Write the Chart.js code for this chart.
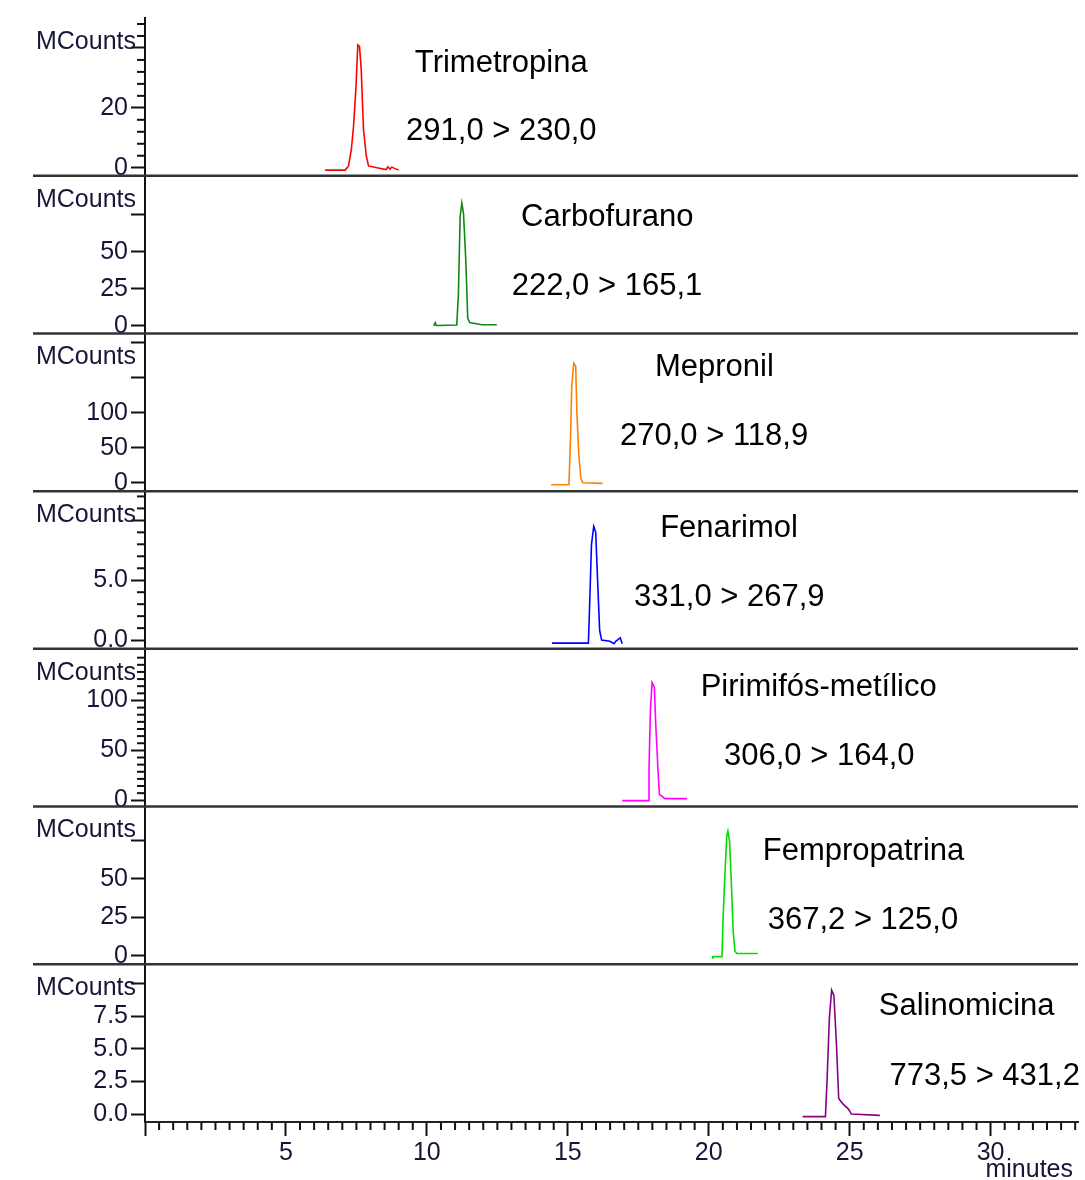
<!DOCTYPE html>
<html>
<head>
<meta charset="utf-8">
<script src="https://cdn.jsdelivr.net/npm/chart.js@4.4.1/dist/chart.umd.min.js"></script>
<style>
  html, body { margin: 0; padding: 0; background: #fff; }
  #wrap { width: 1085px; height: 1180px; }
</style>
</head>
<body>
<div id="wrap"><canvas id="chromatogram" width="1085" height="1180"></canvas></div>
<script>
// Retention time (minutes) and signal (MCounts)
const trimetropinaTime   = [6.39, 7.10, 7.22, 7.32, 7.40, 7.48, 7.55, 7.61, 7.67, 7.75, 7.85, 7.93, 8.23, 8.55, 8.62, 8.69, 8.75, 9.00];
const trimetropinaCounts = [-0.8, -0.8, 0.6, 6, 14, 26, 41, 40.5, 33, 13, 4, 0.6, 0, -0.6, 0.3, -0.5, 0.2, -0.8];

const carbofuranoTime   = [10.24, 10.30, 10.33, 10.37, 11.06, 11.12, 11.18, 11.24, 11.30, 11.38, 11.45, 11.52, 11.95, 12.48];
const carbofuranoCounts = [0, 2, 0.2, 0.2, 0.5, 22, 74, 83, 76, 45, 5, 2.2, 0.7, 0.7];

const mepronilTime   = [14.41, 15.04, 15.09, 15.14, 15.21, 15.28, 15.32, 15.39, 15.46, 15.53, 16.23];
const mepronilCounts = [-3, -3, 55, 138, 171, 167, 102, 40, 7, 0, -1];

const fenarimolTime   = [14.44, 15.73, 15.77, 15.84, 15.92, 15.99, 16.06, 16.13, 16.20, 16.49, 16.64, 16.70, 16.86, 16.93];
const fenarimolCounts = [-0.25, -0.25, 2.6, 8, 9.5, 9.0, 4.8, 0.8, 0, -0.1, -0.3, -0.1, 0.2, -0.3];

const pirimifosTime   = [16.93, 17.85, 17.88, 17.93, 17.99, 18.07, 18.12, 18.20, 18.25, 18.36, 18.44, 19.23];
const pirimifosCounts = [-0.3, -0.3, 30, 90, 118, 113, 76, 30, 6, 3.7, 1.7, 1.7];

const fempropatrinaTime   = [20.12, 20.14, 20.47, 20.51, 20.58, 20.64, 20.68, 20.74, 20.80, 20.87, 20.93, 21.00, 21.74];
const fempropatrinaCounts = [-1.5, -0.5, -0.5, 25, 55, 78, 81, 74, 48, 15, 3, 1.5, 1.5];

const salinomicinaTime   = [23.33, 24.14, 24.20, 24.28, 24.36, 24.44, 24.53, 24.61, 24.75, 24.95, 25.06, 26.07];
const salinomicinaCounts = [-0.2, -0.2, 2.7, 7.4, 9.5, 9.1, 5.4, 1.2, 0.8, 0.4, 0, -0.1];

const compounds   = ['Trimetropina', 'Carbofurano', 'Mepronil', 'Fenarimol', 'Pirimifós-metílico', 'Fempropatrina', 'Salinomicina'];
const transitions = ['291,0 > 230,0', '222,0 > 165,1', '270,0 > 118,9', '331,0 > 267,9', '306,0 > 164,0', '367,2 > 125,0', '773,5 > 431,2'];
const times  = [trimetropinaTime, carbofuranoTime, mepronilTime, fenarimolTime, pirimifosTime, fempropatrinaTime, salinomicinaTime];
const counts = [trimetropinaCounts, carbofuranoCounts, mepronilCounts, fenarimolCounts, pirimifosCounts, fempropatrinaCounts, salinomicinaCounts];

// y axis range of each panel and its ticks
const yMin = [-2.67, -5.2, -12.1, -0.73, -6.3, -5.5, -0.61];
const yMax = [50, 101.6, 213.6, 12.44, 151.7, 97, 11.48];
const yStep = [20, 25, 50, 5, 50, 25, 2.5];
const yMinorPerMajor = [5, 1, 1, 5, 7, 1, 1];
const yLabelMax = [20, 50, 100, 5, 100, 50, 7.5];
const yDecimals = [0, 0, 0, 1, 0, 0, 1];

const xMax = 33.1;
const xStep = 5;
const xMinor = 0.5;

// look
const traceColors = ['#ff0000', '#118811', '#ff8000', '#0000ff', '#ff00ff', '#00dd00', '#880088'];
const tickColor = '#161638';
const fontFamily = '"Liberation Sans", Arial, sans-serif';
const labelPlace = [
  { nameX: 12.64, transX: 12.64, nameDy: 45, transDy: 113 },
  { nameX: 16.40, transX: 16.39, nameDy: 42, transDy: 111 },
  { nameX: 20.20, transX: 20.19, nameDy: 34, transDy: 103 },
  { nameX: 20.72, transX: 20.73, nameDy: 37, transDy: 106 },
  { nameX: 23.90, transX: 23.92, nameDy: 39, transDy: 108 },
  { nameX: 25.49, transX: 25.47, nameDy: 45, transDy: 114 },
  { nameX: 29.15, transX: 29.79, nameDy: 42, transDy: 112 }
];

Chart.defaults.font.family = fontFamily;

const panelIds = compounds.map((c, i) => 'y' + i);

const datasets = compounds.map((name, i) => ({
  label: name,
  data: times[i].map((t, k) => ({ x: t, y: counts[i][k] })),
  xAxisID: 'x',
  yAxisID: panelIds[i],
  borderColor: traceColors[i],
  borderWidth: 1.6,
  pointRadius: 0,
  tension: 0,
  fill: false
}));

const scales = {
  x: {
    type: 'linear',
    min: 0,
    max: xMax,
    bounds: 'data',
    border: { display: true, color: '#222', width: 2 },
    grid: { drawOnChartArea: false, drawTicks: true, tickLength: 14, tickColor: '#111', tickWidth: 2 },
    ticks: {
      autoSkip: false, maxRotation: 0, padding: 2, color: tickColor,
      font: { size: 25 },
      callback: v => (v === 0 ? '' : String(v))
    },
    afterBuildTicks: s => {
      const t = [];
      for (let v = 0; v <= xMax; v += xStep) t.push({ value: v });
      s.ticks = t;
    },
    afterFit: s => { s.height = 58; }
  }
};

panelIds.forEach((id, i) => {
  scales[id] = {
    type: 'linear',
    position: 'left',
    stack: 'panels',
    stackWeight: 1,
    weight: panelIds.length - i,
    min: yMin[i],
    max: yMax[i],
    bounds: 'data',
    border: { display: true, color: '#111', width: 2 },
    grid: { drawOnChartArea: false, drawTicks: true, tickLength: 14, tickColor: '#111', tickWidth: 2 },
    ticks: {
      autoSkip: false, padding: 3, color: tickColor,
      font: { size: 25 },
      callback: v => (v > yLabelMax[i] + 1e-9 ? '' : v.toFixed(yDecimals[i]))
    },
    afterBuildTicks: s => {
      const t = [];
      for (let v = 0; v <= yMax[i] * 0.97; v += yStep[i]) t.push({ value: v });
      s.ticks = t;
    },
    afterFit: s => { s.width = 145; }
  };
});

const decorations = {
  id: 'decorations',
  afterDraw(chart) {
    const { ctx, chartArea } = chart;
    const xs = chart.scales.x;
    ctx.save();

    // minor ticks on the time axis
    ctx.strokeStyle = '#111';
    ctx.lineWidth = 2;
    for (let k = 1; k * xMinor <= xMax; k++) {
      const v = k * xMinor;
      if (Math.abs(v / xStep - Math.round(v / xStep)) < 1e-6) continue;
      const px = xs.getPixelForValue(v);
      ctx.beginPath();
      ctx.moveTo(px, xs.top);
      ctx.lineTo(px, xs.top + 8);
      ctx.stroke();
    }

    panelIds.forEach((id, i) => {
      const s = chart.scales[id];

      // minor ticks on the counts axis
      if (yMinorPerMajor[i] > 1) {
        const m = yStep[i] / yMinorPerMajor[i];
        ctx.strokeStyle = '#111';
        ctx.lineWidth = 2;
        for (let k = 1; k * m <= yMax[i] * 0.97; k++) {
          if (k % yMinorPerMajor[i] === 0) continue;
          const py = s.getPixelForValue(k * m);
          ctx.beginPath();
          ctx.moveTo(s.right - 8, py);
          ctx.lineTo(s.right, py);
          ctx.stroke();
        }
      }

      // panel separator
      if (i < panelIds.length - 1) {
        ctx.strokeStyle = '#333';
        ctx.lineWidth = 2.5;
        ctx.beginPath();
        ctx.moveTo(33, s.bottom);
        ctx.lineTo(chartArea.right, s.bottom);
        ctx.stroke();
      }

      // unit label
      ctx.fillStyle = tickColor;
      ctx.font = '25px ' + fontFamily;
      ctx.textAlign = 'right';
      ctx.textBaseline = 'middle';
      ctx.fillText('MCounts', s.right - 9, s.top + 24);

      // compound name and transition
      const lp = labelPlace[i];
      ctx.fillStyle = '#000';
      ctx.font = '31px ' + fontFamily;
      ctx.textAlign = 'center';
      ctx.fillText(compounds[i], xs.getPixelForValue(lp.nameX), s.top + lp.nameDy);
      ctx.fillText(transitions[i], xs.getPixelForValue(lp.transX), s.top + lp.transDy);
    });

    ctx.fillStyle = tickColor;
    ctx.font = '25px ' + fontFamily;
    ctx.textAlign = 'right';
    ctx.textBaseline = 'middle';
    ctx.fillText('minutes', 1073, 1170);
    ctx.restore();
  }
};

new Chart(document.getElementById('chromatogram'), {
  type: 'line',
  data: { datasets },
  options: {
    responsive: false,
    animation: false,
    layout: { padding: { top: 15, right: 7, bottom: 0, left: 0 } },
    plugins: { legend: { display: false }, tooltip: { enabled: false } },
    scales
  },
  plugins: [decorations]
});
</script>
</body>
</html>
